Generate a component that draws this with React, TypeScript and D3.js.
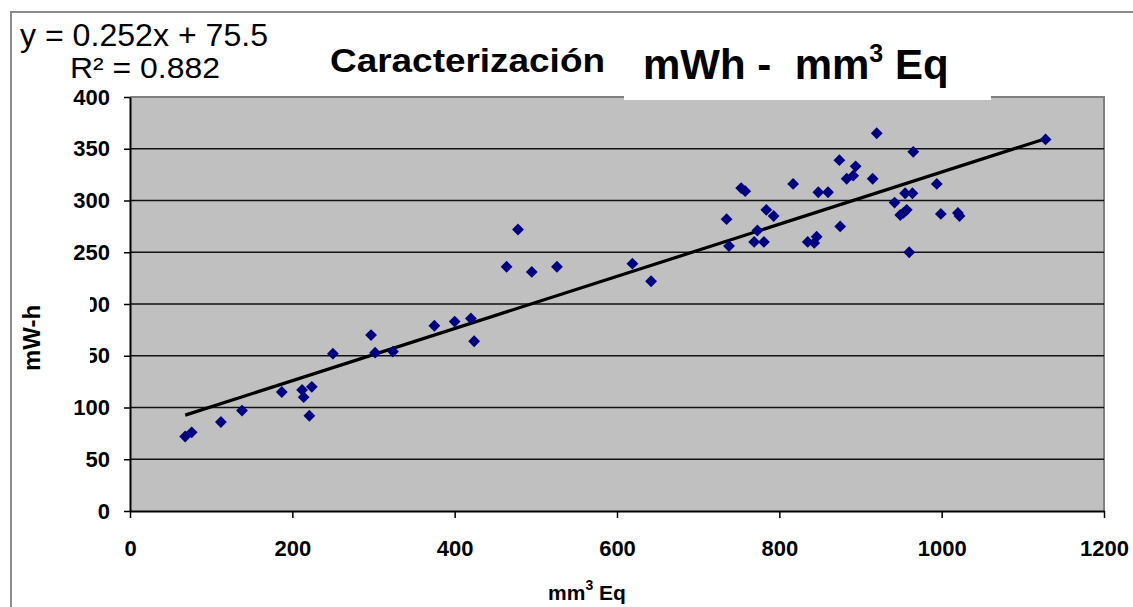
import React, { useRef, useEffect } from 'react';
import * as d3 from 'd3';

// energy (mW-h) against equivalent volume (mm3 Eq)
const mm3Eq = [68, 76, 112, 138, 187, 212, 224, 214, 221, 250, 297, 302, 324, 375, 400, 420, 424, 464, 478, 495, 526, 619, 642, 735, 738, 753, 758, 773, 769, 781, 784, 793, 817, 835, 846, 843, 848, 860, 875, 874, 894, 883, 891, 915, 920, 965, 994, 955, 964, 942, 949, 957, 953, 999, 1020, 1022, 960, 1128];
const mWh = [72, 76, 86, 97, 115, 117, 120, 110, 92, 152, 170, 153, 154, 179, 183, 186, 164, 236, 272, 231, 236, 239, 222, 282, 256, 312, 309, 271, 260, 260, 291, 285, 316, 260, 265, 259, 308, 308, 275, 339, 333, 321, 324, 321, 365, 347, 316, 307, 307, 298, 286, 291, 288, 287, 288, 285, 250, 359];

const xTicks = [0, 200, 400, 600, 800, 1000, 1200];
const yTicks = [0, 50, 100, 150, 200, 250, 300, 350, 400];

const slope = 0.252;
const intercept = 75.5;
const r2 = 0.882;

const FONT = '"Liberation Sans", Arial, sans-serif';

const App = () => {
    const width = 1133;
    const height = 607;
    const svgRef = useRef<SVGSVGElement>(null);

    useEffect(() => {
        const svg = d3.select(svgRef.current);
        svg.selectAll('*').remove();

        const left = 130, right = 1104, top = 97, bottom = 511;
        const x = d3.scaleLinear().domain([0, 1200]).range([left, right]);
        const y = d3.scaleLinear().domain([0, 400]).range([bottom, top]);

        // outer chart frame (only top and left show)
        svg.append('path')
            .attr('d', `M11,${height} L11,12 L${width},12`)
            .attr('fill', 'none')
            .attr('stroke', '#8c8c8c')
            .attr('stroke-width', 2);

        // plot area
        svg.append('rect')
            .attr('x', left).attr('y', top)
            .attr('width', right - left).attr('height', bottom - top)
            .attr('fill', '#c0c0c0');

        svg.append('path')
            .attr('d', `M${left},${top} L${right},${top} L${right},${bottom}`)
            .attr('fill', 'none')
            .attr('stroke', '#808080')
            .attr('stroke-width', 2);

        // gridlines
        svg.append('g')
            .selectAll('line')
            .data(yTicks.filter(t => t > 0 && t < 400))
            .enter().append('line')
            .attr('x1', left).attr('x2', right)
            .attr('y1', d => y(d)).attr('y2', d => y(d))
            .attr('stroke', '#111')
            .attr('stroke-width', 1.4);

        // axes
        const fmt = d3.format('d');
        const yAxis = svg.append('g')
            .attr('transform', `translate(${left},0)`)
            .call(d3.axisLeft(y).tickValues(yTicks).tickFormat(fmt).tickSize(6).tickPadding(14).tickSizeOuter(0));
        const xAxis = svg.append('g')
            .attr('transform', `translate(0,${bottom})`)
            .call(d3.axisBottom(x).tickValues(xTicks).tickFormat(fmt).tickSize(7).tickPadding(22).tickSizeOuter(0));

        [yAxis, xAxis].forEach(a => {
            a.select('.domain').attr('stroke', '#000').attr('stroke-width', 2);
            a.selectAll('.tick line').attr('stroke', '#000').attr('stroke-width', 1.5);
            a.selectAll('.tick text')
                .attr('fill', '#000')
                .style('font-family', FONT)
                .style('font-weight', 'bold')
                .style('font-size', '22px');
        });

        // trendline over the data range
        const [xMin, xMax] = d3.extent(mm3Eq) as [number, number];
        svg.append('line')
            .attr('x1', x(xMin)).attr('y1', y(slope * xMin + intercept))
            .attr('x2', x(xMax)).attr('y2', y(slope * xMax + intercept))
            .attr('stroke', '#000')
            .attr('stroke-width', 3.2);

        // points
        const diamond = d3.symbol().type(d3.symbolSquare).size(70);
        svg.append('g')
            .selectAll('path')
            .data(mm3Eq.map((v, i) => [v, mWh[i]]))
            .enter().append('path')
            .attr('d', diamond)
            .attr('transform', d => `translate(${x(d[0])},${y(d[1])}) rotate(45)`)
            .attr('fill', '#000080');

        // white boxes behind the titles
        svg.append('rect')
            .attr('x', 14).attr('y', 272).attr('width', 76).attr('height', 120)
            .attr('fill', '#fff');
        svg.append('rect')
            .attr('x', 624).attr('y', 20).attr('width', 367).attr('height', 80)
            .attr('fill', '#fff');

        // regression label
        svg.append('text')
            .attr('x', 20).attr('y', 46)
            .attr('textLength', 248).attr('lengthAdjust', 'spacingAndGlyphs')
            .style('font-family', FONT).style('font-size', '31px')
            .text(`y = ${slope}x + ${intercept}`);
        svg.append('text')
            .attr('x', 70).attr('y', 78)
            .attr('textLength', 150).attr('lengthAdjust', 'spacingAndGlyphs')
            .style('font-family', FONT).style('font-size', '29px')
            .text(`R² = ${r2}`);

        // title
        svg.append('text')
            .attr('x', 330).attr('y', 72)
            .attr('textLength', 275).attr('lengthAdjust', 'spacingAndGlyphs')
            .style('font-family', FONT).style('font-size', '34px').style('font-weight', 'bold')
            .text('Caracterización');
        const t2 = svg.append('text')
            .attr('x', 643).attr('y', 79)
            .attr('xml:space', 'preserve')
            .style('white-space', 'pre')
            .style('font-family', FONT).style('font-size', '42px').style('font-weight', 'bold');
        t2.append('tspan').text('mWh -  mm');
        t2.append('tspan').attr('dy', -17).style('font-size', '25px').text('3');
        t2.append('tspan').attr('dy', 17).text(' Eq');

        // axis titles
        const xt = svg.append('text')
            .attr('x', 587).attr('y', 600)
            .attr('text-anchor', 'middle')
            .attr('xml:space', 'preserve')
            .style('white-space', 'pre')
            .style('font-family', FONT).style('font-size', '21px').style('font-weight', 'bold');
        xt.append('tspan').text('mm');
        xt.append('tspan').attr('dy', -10).style('font-size', '14px').text('3');
        xt.append('tspan').attr('dy', 10).text(' Eq');

        svg.append('text')
            .attr('transform', 'translate(40,338) rotate(-90)')
            .attr('text-anchor', 'middle')
            .style('font-family', FONT).style('font-size', '24px').style('font-weight', 'bold')
            .text('mW-h');
    }, []);

    return (
        <svg ref={svgRef} width={width} height={height}
            style={{ position: 'absolute', left: 0, top: 0, background: '#fff' }} />
    );
};

export default App;
